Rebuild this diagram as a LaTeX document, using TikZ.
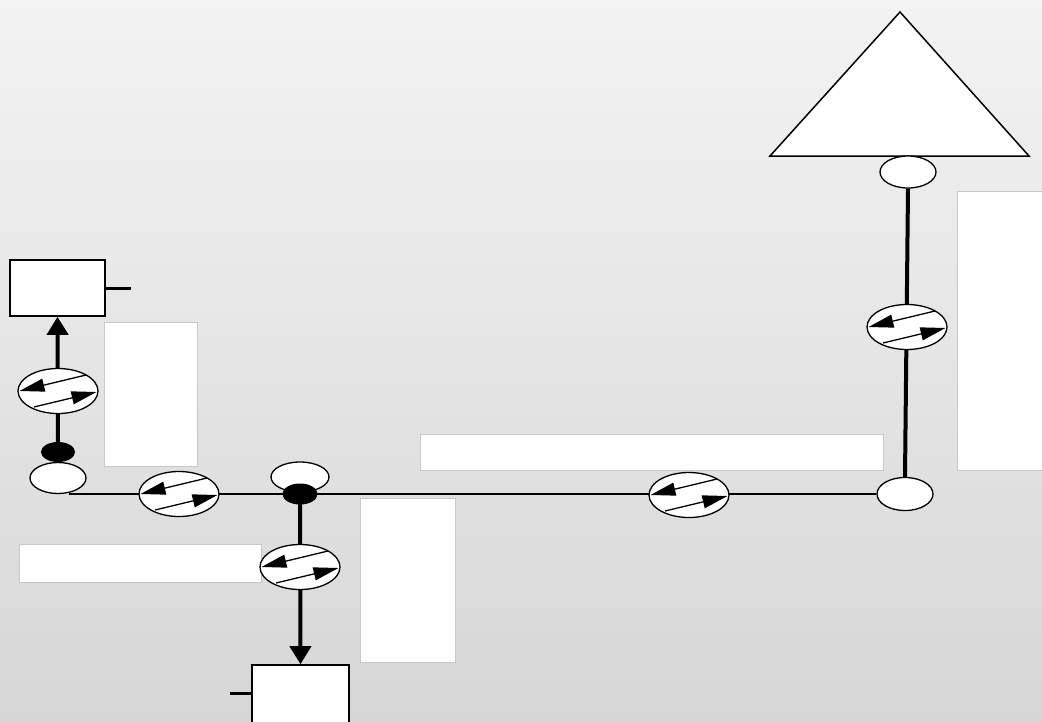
\documentclass[tikz,border=0pt]{standalone}
\usetikzlibrary{shapes.geometric,arrows.meta}
\definecolor{bgtop}{RGB}{243,243,243}
\definecolor{bgbot}{RGB}{214,214,214}
\definecolor{boxedge}{RGB}{200,200,200}
\tikzset{
  ovalnode/.style={draw, fill=white, ellipse, inner sep=0pt, line width=1.3pt},
  blacknode/.style={draw, fill=black, ellipse, inner sep=0pt, line width=1pt, minimum width=33pt, minimum height=19pt},
  blockbox/.style={draw, fill=white, rectangle, inner sep=0pt, line width=1.6pt},
  blankbox/.style={draw=boxedge, fill=white, rectangle, inner sep=0pt, line width=0.6pt},
  thickline/.style={line width=4pt},
  thinline/.style={line width=2.5pt},
  bigarrow/.style={line width=4pt, -{Triangle[length=18pt,width=21pt]}},
  smallarrow/.style={line width=1.3pt, -{Triangle[length=25pt,width=13pt]}},
  exch/.pic={
    \node[ovalnode, minimum width=80pt, minimum height=45pt] (-e) at (0,0) {};
    \draw[smallarrow] (28,-16) -- (-38.5,0);
    \draw[smallarrow] (-24,16) -- (38.5,1);
  }
}
\begin{document}
\begin{tikzpicture}[x=1pt,y=-1pt]
\useasboundingbox (0,0) rectangle (1042,721);
\clip (0,0) rectangle (1042,721);
\shade[top color=bgtop, bottom color=bgbot] (0,0) rectangle (1042,721);

% blank text boxes
\node[blankbox, minimum width=93pt, minimum height=144pt] (t1) at (150.5,394) {};
\node[blankbox, minimum width=242pt, minimum height=38pt] (t2) at (140,563) {};
\node[blankbox, minimum width=95pt, minimum height=164pt] (t3) at (407.5,580) {};
\node[blankbox, minimum width=463pt, minimum height=36pt] (t4) at (651.5,452) {};
\node[blankbox, minimum width=90pt, minimum height=279pt] (t5) at (1002,330.5) {};

% triangle
\coordinate (ta) at (900,12);
\coordinate (tl) at (770,156);
\coordinate (tr) at (1029,156);
\draw[fill=white, line width=1.5pt, line join=miter] (ta) -- (tl) -- (tr) -- cycle;

% ovals
\node[ovalnode, minimum width=56pt, minimum height=32pt] (tE) at (908,172) {};
\node[ovalnode, minimum width=56pt, minimum height=33pt] (rE) at (905,494) {};
\node[ovalnode, minimum width=56pt, minimum height=31pt] (lE) at (58,478) {};
\node[ovalnode, minimum width=58pt, minimum height=30pt] (jE) at (300,477) {};

% boxes
\node[blockbox, minimum width=95pt, minimum height=56pt] (b1) at (57.5,288) {};
\node[blockbox, minimum width=97pt, minimum height=80pt] (b2) at (300.5,705) {};
\coordinate (k1) at (131,288);
\coordinate (k2) at (230,693);

% connectors
\draw[thickline] (tE.south) -- (rE.north);
\draw[thinline] (lE.-55 |- rE.west) -- (rE.west);
\node[blacknode] (lB) at (58,452) {};
\node[blacknode, minimum width=34pt, minimum height=20pt] (jB) at (300,494) {};
\draw[bigarrow] (lB.north) -- (b1.south);
\draw[bigarrow] (jB.center) -- (b2.north);
\draw[line width=3pt] (b1.east) -- (k1);
\draw[line width=3pt] (k2) -- (b2.west |- k2);

% exchange symbols
\pic (x1) at (907,327) {exch};
\pic (x2) at (58,391) {exch};
\pic (x3) at (179,494) {exch};
\pic (x4) at (300,567) {exch};
\pic (x5) at (689,495) {exch};
\end{tikzpicture}
\end{document}
